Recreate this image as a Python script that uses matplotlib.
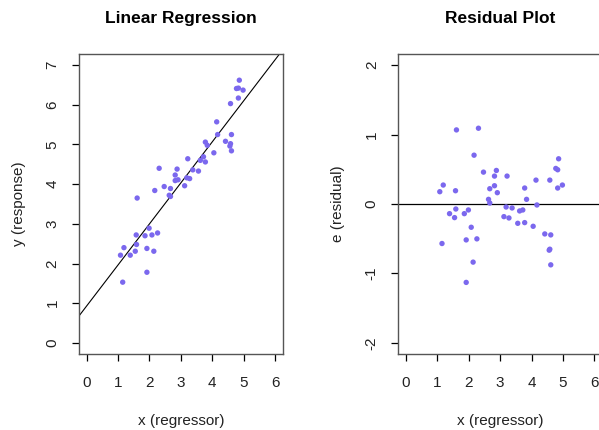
import numpy as np
import matplotlib
matplotlib.use("Agg")
import matplotlib.pyplot as plt

# data
x = [1.08, 1.19, 1.15, 1.39, 1.55, 1.59, 1.58, 1.61, 1.86, 1.92,
     1.92, 1.99, 2.08, 2.17, 2.14, 2.26, 2.31, 2.47, 2.63, 2.67,
     2.67, 2.82, 2.82, 2.88, 2.91, 3.12, 3.19, 3.28, 3.22, 3.38,
     3.56, 3.62, 3.72, 3.78, 3.78, 3.84, 4.05, 4.17, 4.14, 4.42,
     4.58, 4.61, 4.56, 4.58, 4.61, 4.77, 4.83, 4.86, 4.83, 4.98]
y = [2.21, 2.40, 1.53, 2.21, 2.31, 2.48, 2.72, 3.65, 2.70, 2.38,
     1.78, 2.89, 2.72, 3.84, 2.31, 2.77, 4.40, 3.94, 3.72, 3.69,
     3.89, 4.09, 4.23, 4.38, 4.11, 3.96, 4.16, 4.14, 4.64, 4.36,
     4.33, 4.60, 4.69, 5.06, 4.56, 4.98, 4.79, 5.25, 5.57, 5.08,
     6.03, 5.25, 4.96, 5.02, 4.84, 6.41, 6.42, 6.62, 6.17, 6.37]
e = [0.177, 0.273, -0.569, -0.139, -0.196, -0.072, 0.191, 1.067, -0.139, -0.517,
     -1.129, -0.086, -0.335, 0.703, -0.837, -0.502, 1.091, 0.459, 0.067, 0.014,
     0.220, 0.263, 0.402, 0.483, 0.163, -0.182, -0.043, -0.201, 0.402, -0.057,
     -0.278, -0.100, -0.086, 0.230, -0.268, 0.067, -0.321, -0.014, 0.344, -0.431,
     0.344, -0.445, -0.665, -0.651, -0.876, 0.512, 0.493, 0.651, 0.230, 0.273]
intercept = 0.927
slope = 1.035

x_ticks = [0, 1, 2, 3, 4, 5, 6]
y_ticks_left = [0, 1, 2, 3, 4, 5, 6, 7]
y_ticks_right = [-2, -1, 0, 1, 2]

plt.rcParams['font.family'] = ['Liberation Sans', 'DejaVu Sans']
plt.rcParams['axes.unicode_minus'] = False

W, H = 599, 430
fig = plt.figure(figsize=(W / 100, H / 100), dpi=100)

def box(l, r, t, b):
    return [l / W, 1 - b / H, (r - l) / W, (b - t) / H]

pt_color = '#7B68EE'
spine_color = '#555555'

def style(ax):
    for s in ax.spines.values():
        s.set_color(spine_color)
        s.set_linewidth(1.0)
    ax.tick_params(axis='both', direction='out', length=5, width=0.9,
                   color='black', labelsize=11, labelcolor='#222222')
    ax.tick_params(axis='x', pad=11)
    ax.tick_params(axis='y', pad=9, labelrotation=90)
    for lab in ax.get_yticklabels():
        lab.set_va('center')

# left panel
ax1 = fig.add_axes(box(79, 282.7, 54, 354))
ax1.scatter(x, y, s=15, color=pt_color, edgecolors='none', zorder=3)
xl = np.array([-1, 7])
ax1.plot(xl, intercept + slope * xl, color='black', lw=0.8, zorder=2)
ax1.set_xlim(-0.24, 6.24)
ax1.set_ylim(-0.28, 7.28)
ax1.set_xticks(x_ticks)
ax1.set_yticks(y_ticks_left)
style(ax1)
ax1.set_xlabel('x (regressor)', fontsize=11, labelpad=17, color='#222222')
ax1.set_ylabel('y (response)', fontsize=11, labelpad=14, color='#222222')
ax1.set_title('Linear Regression', fontsize=12.5, fontweight='bold', pad=22)

# right panel
ax2 = fig.add_axes(box(398.3, 602, 54, 354))
ax2.scatter(x, e, s=15, color=pt_color, edgecolors='none', zorder=3)
ax2.axhline(0, color='black', lw=0.9, zorder=2)
ax2.set_xlim(-0.24, 6.24)
ax2.set_ylim(-2.16, 2.16)
ax2.set_xticks(x_ticks)
ax2.set_yticks(y_ticks_right)
style(ax2)
ax2.set_xlabel('x (regressor)', fontsize=11, labelpad=17, color='#222222')
ax2.set_ylabel('e (residual)', fontsize=11, labelpad=14, color='#222222')
ax2.set_title('Residual Plot', fontsize=12.5, fontweight='bold', pad=22)

fig.savefig('out.png', dpi=100)
